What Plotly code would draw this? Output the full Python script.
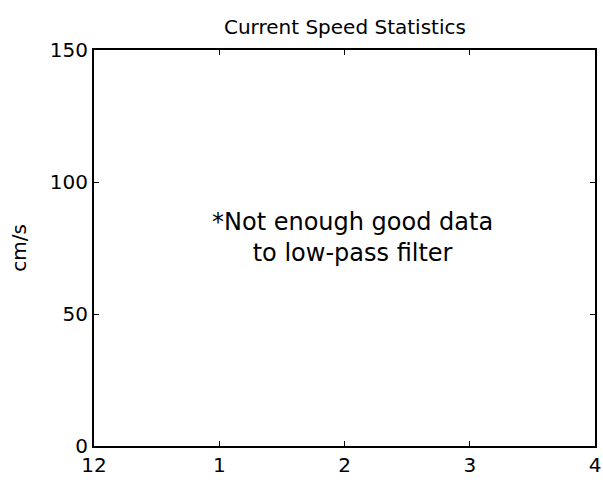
import plotly.graph_objects as go

# Axis definitions
x_tick_vals = [0, 1, 2, 3, 4]
x_tick_labels = ["12", "1", "2", "3", "4"]
y_tick_vals = [0, 50, 100, 150]
x_range = [0, 4]
y_range = [0, 150]

title_text = "Current Speed Statistics"
y_label = "cm/s"
note_text = "*Not enough good data<br>to low-pass filter"
note_x = 2.06
note_y = 79

FONT = "DejaVu Sans, Open Sans, sans-serif"

fig = go.Figure()
fig.add_trace(go.Scatter(x=[], y=[], mode="lines", showlegend=False))

fig.add_annotation(x=note_x, y=note_y, xref="x", yref="y", text=note_text,
                   showarrow=False, align="center",
                   font=dict(family=FONT, size=24, color="black"))

axis_common = dict(showline=True, linecolor="black", linewidth=2, mirror="ticks",
                   ticks="inside", ticklen=5, tickwidth=1, tickcolor="black",
                   showgrid=False, zeroline=False, automargin=False,
                   tickfont=dict(family=FONT, size=20, color="black"))

fig.update_layout(
    width=603, height=484,
    margin=dict(l=94, r=8, t=50, b=38),
    plot_bgcolor="white", paper_bgcolor="white",
    title=dict(text=title_text, x=0.572, xanchor="center", y=0.944, yanchor="middle",
               font=dict(family=FONT, size=20, color="black"), automargin=False),
    xaxis=dict(range=x_range, tickvals=x_tick_vals, ticktext=x_tick_labels, **axis_common),
    yaxis=dict(range=y_range, tickvals=y_tick_vals,
               title=dict(text=y_label, font=dict(family=FONT, size=20, color="black"), standoff=18),
               **axis_common),
)

fig.write_html("out.html", config={"displayModeBar": False},
               post_script="document.body.style.margin='0';")
